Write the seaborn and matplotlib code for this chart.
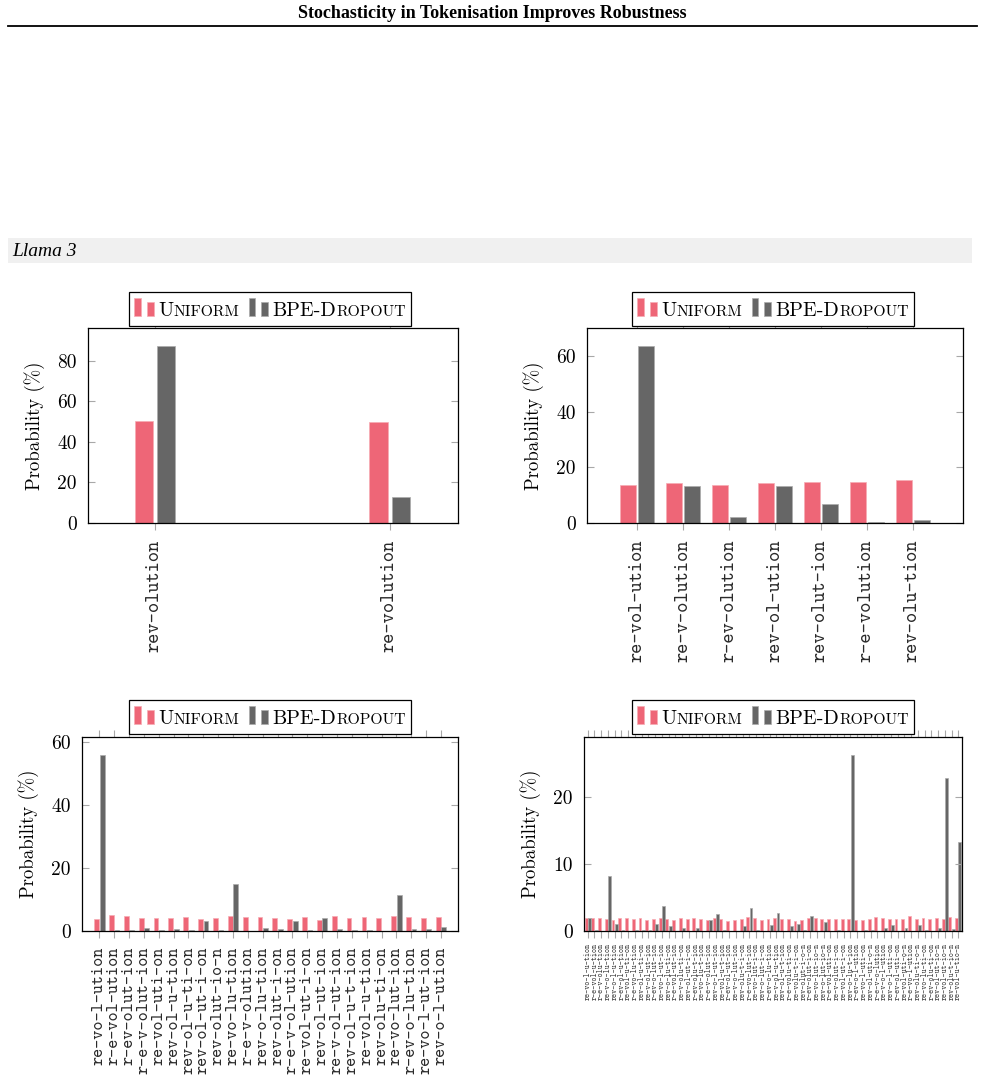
import numpy as np
import pandas as pd
import matplotlib
matplotlib.use('Agg')
import matplotlib.pyplot as plt
import seaborn as sns
from matplotlib.lines import Line2D
from matplotlib.patches import Rectangle
from matplotlib.offsetbox import AnchoredOffsetbox, HPacker, TextArea, DrawingArea
import matplotlib.colors as mcolors

plt.rcParams['font.family'] = 'cmr10'

PINK = '#EE6677'
GREY = '#666666'

# -----------------------
# data (probabilities in %)

tl_labels = ['rev-olution', 're-volution']
tl_uniform = [50.2, 49.8]
tl_dropout = [87.3, 12.7]

tr_labels = ['re-vol-ution', 're-v-olution', 'r-ev-olution', 'rev-ol-ution',
	'rev-olut-ion', 'r-e-volution', 'rev-olu-tion']
tr_uniform = [13.8, 14.3, 13.5, 14.3, 14.7, 14.7, 15.3]
tr_dropout = [63.8, 13.4, 2.0, 13.2, 6.9, 0.2, 1.2]

bl_labels = ['re-vo-l-ution', 'r-e-vol-ution', 'r-ev-olut-ion', 'r-e-v-olut-ion',
	're-vol-uti-on', 'rev-ol-u-tion', 'rev-ol-u-ti-on', 'rev-ol-ut-i-on',
	'rev-olut-io-n', 're-vo-lu-tion', 'r-e-v-olution', 'rev-o-lu-tion',
	'rev-olut-i-on', 'r-e-v-ol-ution', 're-vol-ut-i-on', 'rev-ol-ut-ion',
	're-v-ol-ut-ion', 'rev-ol-u-t-ion', 're-vol-u-tion', 'rev-olu-ti-on',
	're-vo-lut-ion', 'r-ev-o-lu-tion', 're-vo-l-ut-ion', 'rev-o-l-ution']
bl_uniform = [3.7, 5.0, 4.8, 4.2, 4.2, 4.2, 4.5, 3.9, 4.2, 4.7, 4.3, 4.3,
	4.0, 3.8, 4.5, 3.6, 4.7, 4.2, 4.5, 4.0, 4.7, 4.3, 4.0, 4.5]
bl_dropout = [56.1, 0.2, 0.2, 1.0, 0.3, 0.6, 0.3, 3.1, 0.3, 15.0, 0.1, 0.9,
	0.6, 3.1, 0.3, 4.2, 0.6, 0.3, 0.2, 0.0, 11.5, 0.5, 0.7, 1.3]

br_labels = ['re-vo-l-u-tion', 'r-e-vol-u-tion', 'r-e-v-olu-tion', 're-v-o-lu-tion',
	'rev-o-l-u-tion', 'r-ev-ol-u-tion', 're-vol-u-ti-on', 'r-e-vo-lu-tion',
	'rev-ol-u-ti-on', 're-v-ol-ut-ion', 'r-ev-o-lut-ion', 're-vo-l-ut-ion',
	'rev-o-lu-ti-on', 'r-e-vol-ut-ion', 're-v-olu-ti-on', 'rev-ol-ut-i-on',
	'r-ev-olu-t-ion', 're-vo-lu-t-ion', 'r-e-v-olut-ion', 'rev-o-l-ut-ion',
	're-vol-u-t-ion', 'r-ev-ol-ut-ion', 're-v-o-lut-ion', 'rev-olu-t-i-on',
	'r-e-vo-lut-ion', 're-vo-lut-i-on', 'rev-o-lut-i-on', 'r-ev-o-lu-tion',
	're-v-ol-u-tion', 'rev-ol-u-t-ion', 'r-e-volu-ti-on', 're-volu-t-i-on',
	'rev-olut-i-o-n', 'r-ev-olut-i-on', 're-vo-lut-io-n', 'rev-o-lut-io-n',
	'r-e-vol-uti-on', 're-v-olut-i-on', 're-vol-ut-i-on', 'rev-o-lu-t-ion',
	'r-ev-o-l-ution', 're-vo-l-uti-on', 'rev-ol-uti-o-n', 'r-e-v-o-lution',
	're-v-o-l-ution', 'rev-o-l-uti-on', 'r-ev-ol-uti-on', 're-vol-uti-o-n',
	'r-e-vo-l-ution', 'rev-olu-ti-o-n', 're-vo-lu-ti-on', 'r-ev-olu-ti-on',
	'rev-ol-ut-io-n', 're-vol-ut-io-n', 'rev-olu-t-io-n', 're-vol-u-tio-n']
br_uniform = [1.9, 1.95, 1.9, 1.85, 1.7, 2.0, 1.9, 1.8, 1.9, 1.65,
	1.75, 2.0, 1.85, 1.6, 2.0, 1.85, 2.0, 1.85, 1.7, 1.95,
	1.85, 1.55, 1.7, 1.85, 2.1, 2.0, 1.6, 1.75, 2.0, 1.85,
	1.75, 1.55, 1.7, 2.0, 1.95, 1.85, 1.8, 1.8, 1.75, 1.85,
	1.6, 1.7, 1.85, 2.05, 2.0, 1.8, 1.85, 1.75, 2.25, 1.75,
	2.0, 1.8, 1.9, 1.85, 2.05, 1.9]
br_dropout = [2.0, 0.2, 0.05, 8.2, 1.0, 0.1, 0.05, 0.1, 0.2, 0.1,
	1.1, 3.8, 0.7, 0.05, 0.4, 0.05, 0.45, 0.05, 1.7, 2.5,
	0.2, 0.05, 0.05, 0.8, 3.5, 0.2, 0.05, 0.9, 2.7, 0.05,
	0.75, 1.1, 0.15, 2.2, 0.05, 1.4, 0.05, 0.15, 0.05, 26.3,
	0.05, 0.1, 0.15, 0.05, 0.4, 0.95, 0.05, 0.4, 0.05, 0.95,
	0.1, 0.05, 0.4, 22.8, 0.35, 13.2]

methods = ['Uniform', 'BPE-Dropout']

# -----------------------

W, H = 985, 1092
fig = plt.figure(figsize=(W / 100, H / 100), dpi=100)

def px_rect(x0, x1, y0, y1):
	return [x0 / W, 1 - y1 / H, (x1 - x0) / W, (y1 - y0) / H]

def lighten(c, f=0.45):
	r, g, b = mcolors.to_rgb(c)
	return (r + (1 - r) * f, g + (1 - g) * f, b + (1 - b) * f)

def bar_handle(color):
	da = DrawingArea(14, 13, 0, 0)
	da.add_artist(Rectangle((0, 0), 4.6, 13, fc=color, ec=lighten(color), lw=0.5))
	da.add_artist(Rectangle((9.2, 0), 4.6, 10, fc=color, ec=lighten(color), lw=0.5))
	return da

BIG, SMALL = 14.5, 11.3

def sc_text(s, size):
	return TextArea(s, textprops=dict(fontsize=size, fontfamily='cmr10'))

def add_legend(ax, cx, cy):
	kids = [bar_handle(PINK), DrawingArea(3, 1), sc_text('U', BIG),
		sc_text('NIFORM', SMALL), DrawingArea(7, 1), bar_handle(GREY),
		DrawingArea(3, 1), sc_text('BPE-D', BIG), sc_text('ROPOUT', SMALL)]
	pack = HPacker(children=kids, align='baseline', pad=0, sep=0)
	box = AnchoredOffsetbox(loc='center', child=pack, pad=0.4, borderpad=0,
		frameon=True, bbox_to_anchor=(cx / W, 1 - cy / H),
		bbox_transform=fig.transFigure)
	box.patch.set_boxstyle('square,pad=0')
	box.patch.set_edgecolor('black')
	box.patch.set_linewidth(0.9)
	box.set_zorder(10)
	ax.add_artist(box)

def panel(rect, labels, uni, drop, width, gap, xlim, ystep, lsize, xpad, leg):
	ax = fig.add_axes(rect)
	n = len(labels)
	df = pd.DataFrame({
		'seg': labels * 2,
		'prob': uni + drop,
		'method': [methods[0]] * n + [methods[1]] * n,
	})
	sns.barplot(data=df, x='seg', y='prob', hue='method', order=labels,
		hue_order=methods, palette=[PINK, GREY], saturation=1,
		width=width, gap=gap, legend=False, ax=ax)
	for p in ax.patches:
		p.set_edgecolor(lighten(p.get_facecolor()))
		p.set_linewidth(0.5)

	ax.set_xlim(*xlim)
	ymax = max(uni + drop) * 1.1
	ax.set_ylim(0, ymax)
	yt = np.arange(0, ymax, ystep)
	ax.set_yticks(yt)
	ax.set_yticklabels(['%d' % t for t in yt], fontsize=14)
	ax.set_xticks(range(n))
	ax.set_xticklabels(labels, rotation=90, fontfamily='cmtt10', fontsize=lsize,
		color='#2a2a2a')
	ax.set_xlabel('')
	ax.set_ylabel('Probability (%)', fontsize=13.5, labelpad=9)

	ax.tick_params(axis='x', direction='out', top=True, length=5, width=0.8,
		color='#a8a8a8', pad=xpad)
	ax.tick_params(axis='y', direction='in', right=True, length=5, width=0.8,
		color='#a8a8a8', pad=8)
	for s in ax.spines.values():
		s.set_linewidth(0.9)
		s.set_color('black')
	add_legend(ax, *leg)
	return ax

panel(px_rect(88, 458, 328, 523), tl_labels, tl_uniform, tl_dropout,
	0.19, 0.17, (-0.285, 1.29), 20, 14, 7, (270, 309))
panel(px_rect(587, 963, 328, 523), tr_labels, tr_uniform, tr_dropout,
	0.80, 0.12, (-1.09, 7.09), 20, 14, 7, (773, 309))
panel(px_rect(82, 458, 737, 931), bl_labels, bl_uniform, bl_dropout,
	0.74, 0.12, (-1.17, 24.15), 20, 12.5, 6, (270, 717))
panel(px_rect(584, 962, 737, 931), br_labels, br_uniform, br_dropout,
	0.96, 0.1, (-0.55, 55.55), 10, 5.6, 4, (773, 717))

# page decorations
fig.text(0.5, 1 - 14 / H, 'Stochasticity in Tokenisation Improves Robustness',
	ha='center', va='center', fontfamily='Liberation Serif', fontweight='bold',
	fontsize=13)
fig.add_artist(Line2D([8 / W, 977 / W], [1 - 26 / H] * 2, color='black', lw=1.3,
	transform=fig.transFigure))
fig.add_artist(Rectangle((8 / W, 1 - 263 / H), 964 / W, 25 / H,
	facecolor='#f0f0f0', edgecolor='none', transform=fig.transFigure))
fig.text(12 / W, 1 - 251 / H, 'Llama 3', ha='left', va='center',
	fontfamily='Liberation Serif', fontstyle='italic', fontsize=14)

plt.savefig('out.png', dpi=100)
